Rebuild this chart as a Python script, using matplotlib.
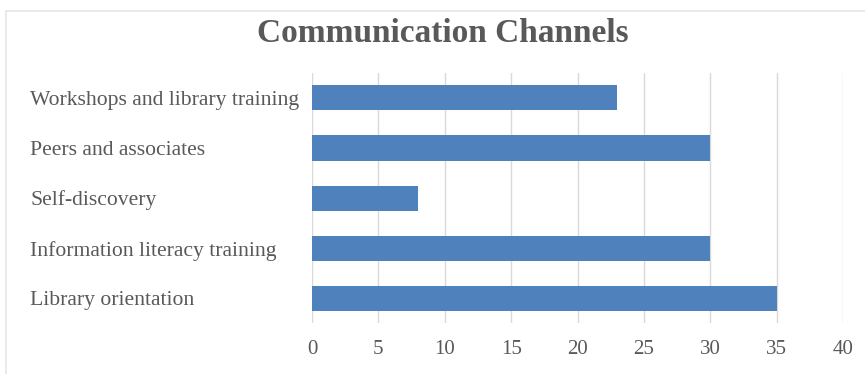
import matplotlib.pyplot as plt
from matplotlib.patches import Rectangle

channels = ["Library orientation", "Information literacy training", "Self-discovery",
            "Peers and associates", "Workshops and library training"]
counts = [35, 30, 8, 30, 23]
xticks = [0, 5, 10, 15, 20, 25, 30, 35, 40]

plt.rcParams['font.family'] = ['Liberation Serif', 'DejaVu Serif']

fig = plt.figure(figsize=(8.65, 3.74), dpi=100)
ax = fig.add_axes([0.3607, 0.136, 0.614, 0.669])

ax.barh(channels, counts, height=0.5, color="#4F81BD", zorder=3)

ax.set_xlim(0, 40)
ax.set_ylim(-0.5, len(channels) - 0.5)
ax.set_xticks(xticks)
ax.grid(axis="x", color="#D9D9D9", linewidth=1, zorder=0)
for s in ax.spines.values():
    s.set_visible(False)
ax.tick_params(axis="both", length=0, labelcolor="#595959")
ax.tick_params(axis="x", pad=12, labelsize=15)
# category names are left-aligned near the left edge of the figure
ax.tick_params(axis="y", pad=203, labelsize=15.6)
for lbl in ax.get_yticklabels():
    lbl.set_horizontalalignment("left")

fig.text(0.512, 0.91, "Communication Channels", ha="center", va="center",
         fontsize=24, fontweight="bold", color="#595959")

# light frame round the chart area, open at the right and bottom edges
fig.patches.append(Rectangle((0.007, -0.02), 1.1, 0.991, transform=fig.transFigure,
                             fill=False, edgecolor="#E6E6E6", linewidth=1.2))

fig.savefig("out.png", dpi=100)
